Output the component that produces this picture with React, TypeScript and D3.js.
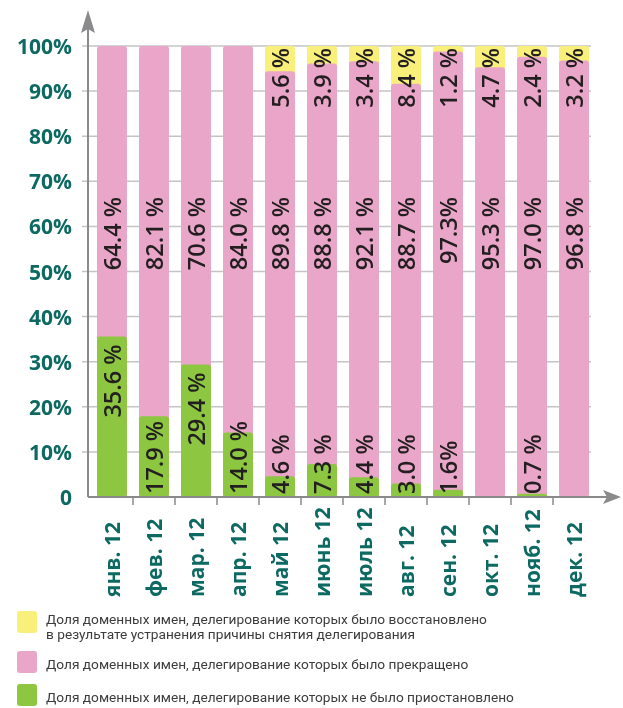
import { useMemo } from 'react'
import * as d3 from 'd3'

const W = 623
const H = 708
const MARGIN = { top: 46, left: 88, bottom: 211, right: 25 }

// months and shares (%)
const MONTHS = ['янв. 12', 'фев. 12', 'мар. 12', 'апр. 12', 'май 12', 'июнь 12', 'июль 12', 'авг. 12', 'сен. 12', 'окт. 12', 'нояб. 12', 'дек. 12']
const GREEN = [35.6, 17.9, 29.4, 14.0, 4.6, 7.3, 4.4, 3.0, 1.6, 0, 0.7, 0]
const PINK = [64.4, 82.1, 70.6, 84.0, 89.8, 88.8, 92.1, 88.7, 97.3, 95.3, 97.0, 96.8]
const YELLOW = [0, 0, 0, 0, 5.6, 3.9, 3.4, 8.4, 1.2, 4.7, 2.4, 3.2]
const GREEN_LABELS = ['35.6 %', '17.9 %', '29.4 %', '14.0 %', '4.6 %', '7.3 %', '4.4 %', '3.0 %', '1.6%', '', '0.7 %', '']
const PINK_LABELS = ['64.4 %', '82.1 %', '70.6 %', '84.0 %', '89.8 %', '88.8 %', '92.1 %', '88.7 %', '97.3%', '95.3 %', '97.0 %', '96.8 %']
const YELLOW_LABELS = ['', '', '', '', '5.6 %', '3.9 %', '3.4 %', '8.4 %', '1.2 %', '4.7 %', '2.4 %', '3.2 %']
const Y_TICKS = [0, 10, 20, 30, 40, 50, 60, 70, 80, 90, 100]
const LEGEND = [
  { key: 'yellow', lines: ['Доля доменных имен, делегирование которых было восстановлено', 'в результате устранения причины снятия делегирования'] },
  { key: 'pink', lines: ['Доля доменных имен, делегирование которых было прекращено'] },
  { key: 'green', lines: ['Доля доменных имен, делегирование которых не было приостановлено'] },
]

const COLORS: Record<string, string> = { green: '#8dc640', pink: '#eaa6c9', yellow: '#f8f07a' }
const TEAL = '#0d6a62'
const AXIS = '#8a8a8c'
const GRID = '#c4c4c6'
const FONT = '"Open Sans", "Noto Sans", sans-serif'

export default function App() {
  const innerW = W - MARGIN.left - MARGIN.right
  const innerH = H - MARGIN.top - MARGIN.bottom
  const x0 = MARGIN.left
  const yBase = MARGIN.top + innerH

  const rows = MONTHS.map((m, i) => ({ month: m, green: GREEN[i], pink: PINK[i], yellow: YELLOW[i] }))

  const series = useMemo(
    () => d3.stack<any>().keys(['green', 'pink', 'yellow']).offset(d3.stackOffsetExpand)(rows),
    []
  )

  const x = d3.scaleBand().domain(MONTHS).range([x0, x0 + 510]).paddingInner(0.286).paddingOuter(0.214)
  const y = d3.scaleLinear().domain([0, 1]).range([yBase, MARGIN.top])
  const yPct = d3.scaleLinear().domain([0, 100]).range([yBase, MARGIN.top])
  const bw = x.bandwidth()

  // draw from the top layer down so every layer is a rounded bar from 0
  const layers = [...series].reverse()

  return (
    <div style={{ position: 'fixed', left: 0, top: 0 }}>
      <svg width={W} height={H} style={{ display: 'block', fontFamily: FONT }}>
        {/* grid */}
        {Y_TICKS.filter(t => t > 0).map(t => (
          <line key={t} x1={x0 - 6} x2={x0 + innerW - 7} y1={yPct(t)} y2={yPct(t)} stroke={GRID} strokeWidth={1.5} />
        ))}

        {/* bars */}
        {layers.map(layer =>
          layer.map((d, i) => (
            <rect
              key={`${layer.key}-${i}`}
              x={x(MONTHS[i])}
              width={bw}
              y={y(d[1])}
              height={Math.max(0, yBase - y(d[1]))}
              rx={3}
              fill={d[1] - d[0] > 0 ? COLORS[layer.key] : 'none'}
            />
          ))
        )}

        {/* value labels */}
        {MONTHS.map((m, i) => {
          const cx = (x(m) as number) + bw / 2
          const gTop = y(series[0][i][1])
          const gTall = GREEN[i] >= 20
          return (
            <g key={m} fill="#231f20" fontSize={23.5} fontWeight={600}>
              {YELLOW_LABELS[i] && (
                <text transform={`translate(${cx},${MARGIN.top + 2}) rotate(-90)`} textAnchor="end" dominantBaseline="central">
                  {YELLOW_LABELS[i]}
                </text>
              )}
              <text transform={`translate(${cx},${MARGIN.top + 151}) rotate(-90)`} textAnchor="end" dominantBaseline="central">
                {PINK_LABELS[i]}
              </text>
              {GREEN_LABELS[i] && (
                <text
                  transform={`translate(${cx},${gTall ? gTop + 8 : yBase - 3}) rotate(-90)`}
                  textAnchor={gTall ? 'end' : 'start'}
                  dominantBaseline="central"
                >
                  {GREEN_LABELS[i]}
                </text>
              )}
            </g>
          )
        })}

        {/* y axis */}
        <line x1={x0} x2={x0} y1={yBase} y2={28} stroke={AXIS} strokeWidth={2} />
        <path d={`M${x0},10 L${x0 + 7},33 L${x0},29 L${x0 - 7},33 Z`} fill={AXIS} />
        {Y_TICKS.map(t => (
          <text
            key={t}
            x={72}
            y={yPct(t)}
            textAnchor="end"
            dominantBaseline="central"
            fill={TEAL}
            fontSize={21}
            fontWeight={700}
          >
            {t === 0 ? '0' : `${t}%`}
          </text>
        ))}

        {/* x axis */}
        <line x1={x0} x2={607} y1={yBase} y2={yBase} stroke={AXIS} strokeWidth={2} />
        <path d={`M621,${yBase} L603,${yBase - 7} L607,${yBase} L603,${yBase + 7} Z`} fill={AXIS} />
        {MONTHS.slice(1).map(m => {
          const tx = (x(m) as number) - (x.step() - bw) / 2
          return <line key={m} x1={tx} x2={tx} y1={yBase} y2={yBase + 8} stroke={AXIS} strokeWidth={1.5} />
        })}
        {MONTHS.map(m => (
          <text
            key={m}
            transform={`translate(${(x(m) as number) + bw / 2},597) rotate(-90)`}
            textAnchor="start"
            dominantBaseline="central"
            fill={TEAL}
            fontSize={21}
            fontWeight={700}
          >
            {m}
          </text>
        ))}

        {/* legend */}
        {LEGEND.map((item, k) => {
          const top = [611, 651, 684][k]
          return (
            <g key={item.key}>
              <rect x={17} y={top} width={20} height={22} rx={3} fill={COLORS[item.key]} />
              {item.lines.map((ln, j) => (
                <text
                  key={j}
                  x={46}
                  y={top + 13 + (k === 0 ? j * 14.5 : 5)}
                  fill="#3c3c3c"
                  fontSize={13.7}
                  fontFamily="Roboto, sans-serif"
                >
                  {ln}
                </text>
              ))}
            </g>
          )
        })}
      </svg>
    </div>
  )
}
